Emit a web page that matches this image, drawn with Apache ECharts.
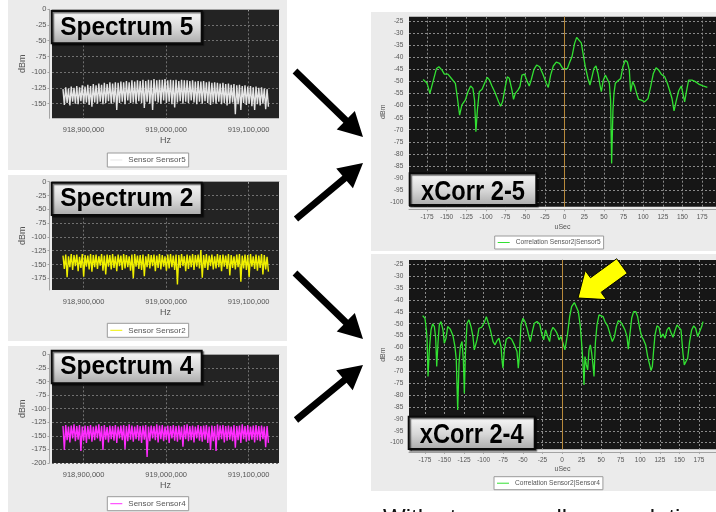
<!DOCTYPE html>
<html>
<head>
<meta charset="utf-8">
<script src="https://cdn.jsdelivr.net/npm/echarts@6/dist/echarts.min.js"></script>
<style>
  html, body { margin: 0; padding: 0; background: #ffffff; }
  #chart { width: 716px; height: 512px; }
</style>
</head>
<body>
<div id="chart"></div>
<script>
// ---- Spectrum traces: frequency span and per-bin peak / trough levels (dBm) ----
const freqStart = 918875000;
const freqEnd = 919124000;
const freqTicks = [918900000, 919000000, 919100000];

const s5High = [
  -127,-124,-126,-123,-125,-122,-124,-121,-123,-120,
  -122,-119,-121,-118,-120,-117,-119,-116,-118,-116,
  -117,-115,-116,-114,-116,-113,-115,-113,-114,-112,
  -114,-112,-113,-111,-113,-112,-112,-111,-113,-112,
  -113,-112,-114,-112,-113,-113,-114,-113,-115,-114,
  -115,-114,-116,-115,-117,-116,-117,-118,-117,-119,
  -118,-120,-119,-121,-120,-122,-121,-123,-122,-124,
  -123,-125,-124,-126,-127
];
const s5Low = [
  -152,-149,-153,-147,-150,-151,-146,-150,-148,-152,
  -155,-148,-150,-147,-151,-149,-146,-150,-148,-160,
  -149,-147,-151,-145,-149,-148,-150,-146,-149,-157,
  -147,-150,-160,-146,-148,-150,-145,-149,-147,-151,
  -156,-148,-146,-150,-147,-149,-145,-148,-151,-147,
  -150,-146,-149,-152,-148,-150,-147,-151,-149,-153,
  -150,-148,-167,-151,-160,-149,-152,-150,-154,-160,
  -151,-153,-150,-159,-155
];
const s2High = [
  -134,-132,-135,-131,-133,-132,-136,-131,-133,-134,
  -131,-133,-132,-135,-131,-134,-132,-133,-131,-135,
  -132,-134,-131,-133,-135,-132,-131,-134,-133,-132,
  -135,-131,-133,-132,-134,-131,-133,-135,-132,-131,
  -134,-132,-133,-131,-135,-132,-134,-131,-133,-132,
  -124,-133,-131,-134,-132,-135,-131,-133,-132,-134,
  -131,-133,-135,-132,-131,-134,-132,-133,-131,-135,
  -132,-134,-131,-133,-136
];
const s2Low = [
  -158,-173,-155,-160,-153,-162,-156,-172,-154,-159,
  -163,-155,-158,-152,-161,-168,-154,-159,-156,-162,
  -153,-160,-157,-155,-161,-175,-154,-158,-160,-171,
  -155,-157,-153,-162,-156,-159,-154,-161,-157,-155,
  -160,-186,-156,-153,-162,-158,-155,-160,-154,-157,
  -174,-156,-160,-153,-159,-157,-155,-162,-154,-158,
  -170,-156,-159,-155,-181,-157,-160,-173,-154,-158,
  -161,-156,-168,-159,-163
];
const s4High = [
  -132,-130,-133,-131,-129,-132,-130,-133,-131,-132,
  -130,-133,-131,-129,-132,-130,-134,-131,-132,-130,
  -133,-131,-130,-132,-129,-131,-133,-130,-132,-131,
  -130,-133,-131,-132,-129,-131,-130,-133,-131,-132,
  -130,-132,-131,-133,-130,-129,-132,-131,-133,-130,
  -132,-131,-130,-133,-131,-132,-129,-131,-130,-132,
  -131,-133,-130,-132,-131,-129,-132,-130,-133,-131,
  -130,-132,-131,-133,-132
];
const s4Low = [
  -176,-158,-162,-155,-160,-157,-178,-159,-163,-156,
  -161,-158,-155,-160,-176,-157,-162,-156,-159,-163,
  -155,-158,-174,-160,-157,-161,-156,-159,-163,-157,
  -189,-160,-155,-158,-162,-156,-160,-157,-163,-155,
  -159,-161,-157,-170,-156,-160,-158,-162,-155,-159,
  -161,-157,-163,-176,-160,-178,-158,-156,-162,-159,
  -157,-160,-172,-158,-163,-156,-161,-159,-157,-162,
  -158,-160,-156,-171,-163
];

// ---- Cross-correlation traces: lag (uSec) and level (dBm) ----
const xc25Lag = [
  -180,-175,-171.4,-163,-160,-156,-153,-148.5,-144,-139,-136.6,-133.6,-130.7,-126.4,-123,-119.6,
  -116.7,-114.6,-112.9,-111,-108.6,-105,-101.8,-98.4,-95.5,-92.5,-89,-84,-81.5,-79,-75.5,-73,
  -70.4,-67,-65,-62.8,-59.4,-56.9,-54.3,-51,-47.5,-45,-42.4,-39,-35.6,-31.8,-27.6,-23.3,-20.8,
  -17.8,-14.4,-10.6,-6.4,-2.5,0,3.4,5.9,9.3,12.7,15.3,17.8,21.2,23.8,26.3,29.7,32.2,34.8,37.3,
  39.9,42.4,45,46.7,49.2,51.8,54.3,56.9,58.5,59.8,61.5,62.8,64.5,67.9,71.3,74.2,77.2,79.8,82.3,
  84,86.5,89.1,91.6,94.2,97.6,101.8,106.1,109.5,112.9,116.3,119.7,123,127.3,130.7,134.1,136.6,
  139.2,141.7,145.1,148.5,151,152.7,155.3,157.8,162.1,166.3,170.6,176.1,181.6
];
const xc25Db = [
  -49.1,-50.7,-54.9,-44.5,-43.8,-45.2,-46.9,-46.9,-48.7,-50.7,-56.3,-63.9,-59.7,-57.7,-54.2,-51.8,
  -52.8,-57.7,-70.8,-61.8,-54.2,-53.2,-50.7,-48.2,-49.4,-51.8,-54.2,-58.4,-60.2,-58.4,-52.1,-48,
  -48.6,-53.5,-57.4,-54.9,-53.5,-52.1,-47.3,-46.9,-50,-51.8,-49.1,-44.9,-43.1,-43.8,-46.9,-50.7,-52.4,
  -47.3,-43.5,-41.9,-42.4,-44.5,-45.2,-44.6,-42.4,-39.7,-34.1,-31.6,-31.4,-33.9,-39,-43.8,-48.7,-51.4,-48,-44.5,
  -43.5,-46.6,-51.4,-54.2,-49.4,-47.3,-48,-50.7,-57.7,-84,-61.8,-54.9,-50.7,-49.6,-48.7,-43.8,-41.1,-41.8,-45.2,
  -54.2,-50,-51.8,-54.9,-57.4,-57.7,-58.4,-57,-52.1,-46.6,-44.2,-45.2,-46.9,-48,-50.7,-54.2,-57,
  -62.2,-58.4,-53.8,-51.8,-52.4,-58.4,-53.5,-49.4,-49.4,-50,-51,-51.8,-52.4
];
const xc24Lag = [
  -178,-175,-173.3,-172.4,-171.1,-169.4,-167.3,-165.2,-163,-161.3,-160,-158.4,-156.7,-154.5,-152,-150.3,
  -148.1,-146,-142.6,-139.2,-136.7,-135,-133.2,-131.5,-129.8,-127.7,-126,-124.7,-123.5,-121.3,-118.8,
  -116.2,-113.7,-112,-110.3,-108.6,-106,-102.6,-99.2,-96.6,-94.1,-91.5,-88.1,-85.6,-83,-80.5,-77.9,
  -76.2,-75.4,-73.6,-71.1,-67.7,-64.3,-60.9,-57.5,-55.8,-54.5,-52.4,-49.8,-47.3,-44.7,-42.1,-40.4,
  -37.9,-35.3,-31.9,-28.5,-26,-23.4,-20.9,-18.3,-15.8,-14,-11.5,-8.9,-6.4,-3.8,-1.3,1.3,3.8,5.5,7.2,
  9.8,12.3,15.8,18.3,20.9,23.4,25.1,26.8,28.1,29.4,31.1,32.8,34.5,36.2,37.9,39.6,40.9,42.6,44.7,47.3,
  49.8,52.4,54.9,58.3,61.7,64.3,66.8,69.4,71.9,75.4,77.9,80.5,83,84.7,86.4,89,91.5,94.1,96.6,99.2,
  101.8,104.3,106.9,109.4,112,113.7,115.4,117.1,118.8,121.3,123.9,126.4,129,131.5,134.1,136.7,139.2,
  141.8,144.3,146.9,149.4,152,154.5,156.2,158.4,160.5,163,165.6,168.2,170.7,173.3,175.8,178.4,180.1
];
const xc24Db = [
  -46.6,-47.7,-52.6,-56.1,-72.2,-61,-52.6,-50.1,-51.2,-56.1,-68,-58.2,-50.5,-49.1,-52.6,-58.2,
  -56.1,-51.2,-52.3,-55.1,-59.6,-65.2,-86.3,-66.6,-59.6,-57.5,-65.2,-79.3,-63.8,-49.8,-48.4,
  -51.2,-55.4,-61,-61.7,-56.8,-51.9,-51.5,-49.5,-47,-47.7,-52.6,-57.5,-58.9,-57.1,-56.1,-59.6,
  -66.6,-68.7,-61,-56.5,-55.7,-56.5,-58.9,-61.7,-68.7,-63.8,-50.5,-47.7,-49.1,-51.9,-55.4,-57.5,
  -53.3,-49.8,-49.1,-50.1,-54,-56.8,-52.6,-55.4,-57.5,-53.3,-51.5,-52.6,-54,-56.8,-55.4,-58.2,-61,-61,-54,
  -47,-42.8,-41.1,-41.7,-44.9,-51.2,-58.2,-66.6,-75.7,-63.8,-67.3,-69.4,-61,-58.9,-62.4,-67.3,-72.2,-58.2,-50.5,-46.3,
  -45.6,-47,-49.1,-50.9,-54.7,-57.5,-55.7,-51.2,-48.7,-49.5,-50.9,-52.6,-55.4,-60.7,-55.4,-47.7,-44.9,-44.9,-47,-51.9,
  -55.4,-56.8,-58.9,-63.8,-67.3,-69.7,-68,-61,-54.7,-50.9,-51.5,-55.7,-54.3,-56.1,-52.6,-51.5,-53.7,
  -55.7,-52.9,-50.5,-50.1,-52.6,-62.4,-67.3,-66.6,-64.5,-57.5,-52.6,-50.9,-51.9,-55.4,-55.7,-51.2,-49.1
];
const lagTicks = [-175,-150,-125,-100,-75,-50,-25,0,25,50,75,100,125,150,175];
const corrTicks = [-25,-30,-35,-40,-45,-50,-55,-60,-65,-70,-75,-80,-85,-90,-95,-100];

// ---- helpers ----
function zigzag(high, low) {
  const n = high.length;
  const step = (freqEnd - freqStart) / (n - 0.5);
  const pts = [];
  for (let i = 0; i < n; i++) {
    pts.push([freqStart + i * step, high[i]]);
    pts.push([freqStart + (i + 0.5) * step, low[i]]);
  }
  return pts;
}
function pairs(xs, ys) { return xs.map((x, i) => [x, ys[i]]); }

const FONT = '"Liberation Sans", Arial, sans-serif';
const axisGray = '#a3a3a3';

function specX(idx) {
  return {
    gridIndex: idx, type: 'value', min: 918861700, max: 919136800, offset: 4,
    axisLine: { show: true, lineStyle: { color: axisGray } },
    axisTick: { show: true, length: 2, customValues: freqTicks, lineStyle: { color: axisGray } },
    axisLabel: { customValues: freqTicks, fontSize: 7.5, color: '#555', margin: 3.5, fontFamily: FONT,
      formatter: v => Math.round(v).toLocaleString('en-US') },
    splitLine: { show: true, lineStyle: { color: '#707070', type: [2, 2], width: 1 } },
    name: 'Hz', nameLocation: 'middle', nameGap: 14,
    nameTextStyle: { fontSize: 9, color: '#555', fontFamily: FONT }
  };
}
function specY(idx, min, ticks) {
  return {
    gridIndex: idx, type: 'value', min: min, max: 0, offset: 2.5,
    axisLine: { show: true, lineStyle: { color: axisGray } },
    axisTick: { show: true, length: 2, customValues: ticks, lineStyle: { color: axisGray } },
    axisLabel: { customValues: ticks, fontSize: 7.5, color: '#555', margin: 3, fontFamily: FONT },
    splitLine: { show: true, lineStyle: { color: '#707070', type: [2, 2], width: 1 } },
    name: 'dBm', nameLocation: 'middle', nameRotate: 90, nameGap: 22,
    nameTextStyle: { fontSize: 9, color: '#555', fontFamily: FONT }
  };
}
function corrX(idx, min, max) {
  return {
    gridIndex: idx, type: 'value', min: min, max: max, offset: 2.6,
    axisLine: { show: true, lineStyle: { color: axisGray } },
    axisTick: { show: true, length: 2, customValues: lagTicks, lineStyle: { color: axisGray } },
    axisLabel: { customValues: lagTicks, fontSize: 6.5, color: '#555', margin: 4.5, fontFamily: FONT },
    splitLine: { show: true, lineStyle: { color: '#8a8a8a', type: [2, 2], width: 1 } },
    name: 'uSec', nameLocation: 'middle', nameGap: 14,
    nameTextStyle: { fontSize: 7, color: '#555', fontFamily: FONT }
  };
}
function corrY(idx, min, max) {
  return {
    gridIndex: idx, type: 'value', min: min, max: max, offset: 1.7,
    axisLine: { show: true, lineStyle: { color: axisGray } },
    axisTick: { show: true, length: 2, customValues: corrTicks, lineStyle: { color: axisGray } },
    axisLabel: { customValues: corrTicks, fontSize: 6.5, color: '#555', margin: 4, fontFamily: FONT },
    splitLine: { show: true, lineStyle: { color: '#8a8a8a', type: [2, 2], width: 1 } },
    name: 'dBm', nameLocation: 'middle', nameRotate: 90, nameGap: 19,
    nameTextStyle: { fontSize: 7, color: '#555', fontFamily: FONT }
  };
}
function legendBox(name, left, top, size) {
  return {
    data: [name], left: left, top: top, orient: 'horizontal',
    backgroundColor: '#ffffff', borderColor: '#9a9a9a', borderWidth: 1, borderRadius: 0,
    padding: [3, 3, 3, 3], itemWidth: 12, itemHeight: 1, icon: 'rect', itemGap: 0,
    textStyle: { fontSize: size, color: '#555', fontFamily: FONT, padding: [0, 0, 0, 1] },
    selectedMode: false
  };
}
function arrowPts(x1, y1, x2, y2, sw, hl, hw) {
  const dx = x2 - x1, dy = y2 - y1, L = Math.hypot(dx, dy);
  const ux = dx / L, uy = dy / L, nx = -uy, ny = ux;
  const bx = x2 - ux * hl, by = y2 - uy * hl;
  return [
    [x1 + nx * sw, y1 + ny * sw], [bx + nx * sw, by + ny * sw], [bx + nx * hw, by + ny * hw],
    [x2, y2],
    [bx - nx * hw, by - ny * hw], [bx - nx * sw, by - ny * sw], [x1 - nx * sw, y1 - ny * sw]
  ];
}
function titleBox(label, x, y, w, h, fontSize, baseline, sx) {
  return [
    { type: 'rect', z: 50, shape: { x: x, y: y, width: w, height: h },
      style: {
        fill: { type: 'linear', x: 0, y: 0, x2: 0, y2: 1, colorStops: [
          { offset: 0, color: '#fbfbfb' }, { offset: 0.55, color: '#d6d6d6' }, { offset: 1, color: '#a9a9a9' } ] },
        stroke: '#0a0a0a', lineWidth: 2,
        shadowColor: 'rgba(0,0,0,0.55)', shadowOffsetX: 1.5, shadowOffsetY: 1.5, shadowBlur: 1
      } },
    { type: 'text', z: 51, x: x + w / 2, y: y + baseline, scaleX: sx,
      style: { text: label, x: 0, y: 0, fill: '#000', font: '900 ' + fontSize + 'px ' + FONT,
        textAlign: 'center', textVerticalAlign: 'bottom' } }
  ];
}

const chart = echarts.init(document.getElementById('chart'), null, { renderer: 'canvas' });

const panelBg = '#ebebeb';
const graphics = [
  { type: 'rect', z: -10, shape: { x: 8, y: 0, width: 279, height: 170 }, style: { fill: panelBg } },
  { type: 'rect', z: -10, shape: { x: 8, y: 175, width: 279, height: 166 }, style: { fill: panelBg } },
  { type: 'rect', z: -10, shape: { x: 8, y: 346, width: 279, height: 166 }, style: { fill: panelBg } },
  { type: 'rect', z: -10, shape: { x: 371, y: 12, width: 345, height: 239 }, style: { fill: panelBg } },
  { type: 'rect', z: -10, shape: { x: 371, y: 254, width: 345, height: 237 }, style: { fill: panelBg } },
  // connecting arrows
  { type: 'polygon', z: 40, shape: { points: arrowPts(295, 71, 363, 137, 3.4, 24, 13) }, style: { fill: '#000' } },
  { type: 'polygon', z: 40, shape: { points: arrowPts(296, 219, 363, 163, 3.4, 24, 13) }, style: { fill: '#000' } },
  { type: 'polygon', z: 40, shape: { points: arrowPts(295, 273, 363, 339, 3.4, 24, 13) }, style: { fill: '#000' } },
  { type: 'polygon', z: 40, shape: { points: arrowPts(296, 420, 363, 365, 3.4, 24, 13) }, style: { fill: '#000' } },
  // highlight arrow at the correlation peak
  { type: 'polygon', z: 60, shape: { points: arrowPts(622, 266, 578, 298, 9, 22, 18) },
    style: { fill: '#ffff00', stroke: '#000', lineWidth: 1 } },
  // caption line below the panels
  { type: 'text', z: 60, x: 383, y: 507.5,
    style: { text: 'With strong smaller correlation peaks', fill: '#111', font: '24px ' + FONT,
      textAlign: 'left', textVerticalAlign: 'top' } }
].concat(
  titleBox('Spectrum 5', 51.7, 11, 150, 32.3, 26, 29.5, 0.94),
  titleBox('Spectrum 2', 51.7, 182.7, 150, 32.3, 26, 29.5, 0.94),
  titleBox('Spectrum 4', 51.7, 350.7, 150, 32.6, 26, 29.5, 0.94),
  titleBox('xCorr 2-5', 409.7, 173.3, 126.6, 31.7, 27.5, 33, 0.86),
  titleBox('xCorr 2-4', 408.7, 416.7, 126, 32.3, 27.5, 33, 0.86)
);

const specSeries = (name, idx, data, color) => ({
  name: name, type: 'line', xAxisIndex: idx, yAxisIndex: idx, data: data,
  showSymbol: false, symbol: 'none', lineStyle: { color: color, width: 1.4 }, itemStyle: { color: color },
  animation: false, clip: true, silent: true
});
const corrSeries = (name, idx, data) => ({
  name: name, type: 'line', xAxisIndex: idx, yAxisIndex: idx, data: data,
  showSymbol: false, symbol: 'none', lineStyle: { color: '#32e032', width: 1.3 }, itemStyle: { color: '#32e032' },
  animation: false, clip: true, silent: true,
  markLine: { silent: true, symbol: 'none', label: { show: false }, animation: false,
    lineStyle: { color: '#b8893a', width: 1, type: 'solid' }, data: [{ xAxis: 0 }] }
});

chart.setOption({
  animation: false,
  textStyle: { fontFamily: FONT },
  grid: [
    { left: 52, top: 9.3, width: 227, height: 109, show: true, backgroundColor: '#232323', borderWidth: 0 },
    { left: 52, top: 181.7, width: 227, height: 108.3, show: true, backgroundColor: '#232323', borderWidth: 0 },
    { left: 52, top: 354.3, width: 227, height: 108.7, show: true, backgroundColor: '#232323', borderWidth: 0 },
    { left: 409, top: 16.7, width: 307, height: 190, show: true, backgroundColor: '#161616', borderWidth: 0 },
    { left: 409, top: 260, width: 307, height: 189.3, show: true, backgroundColor: '#161616', borderWidth: 0 }
  ],
  xAxis: [specX(0), specX(1), specX(2), corrX(3, -198, 192.6), corrX(4, -195.4, 196.7)],
  yAxis: [
    specY(0, -173.3, [0, -25, -50, -75, -100, -125, -150]),
    specY(1, -196.2, [0, -25, -50, -75, -100, -125, -150, -175]),
    specY(2, -200, [0, -25, -50, -75, -100, -125, -150, -175, -200]),
    corrY(3, -102, -23),
    corrY(4, -102.8, -23.2)
  ],
  legend: [
    legendBox('Sensor Sensor5', 107.3, 153, 8),
    legendBox('Sensor Sensor2', 107.3, 323.3, 8),
    legendBox('Sensor Sensor4', 107.3, 496.7, 8),
    legendBox('Correlation Sensor2|Sensor5', 494.7, 236, 6.6),
    legendBox('Correlation Sensor2|Sensor4', 494, 476.7, 6.6)
  ],
  series: [
    specSeries('Sensor Sensor5', 0, zigzag(s5High, s5Low), '#e4e4e4'),
    specSeries('Sensor Sensor2', 1, zigzag(s2High, s2Low), '#f0f000'),
    specSeries('Sensor Sensor4', 2, zigzag(s4High, s4Low), '#ff2cff'),
    corrSeries('Correlation Sensor2|Sensor5', 3, pairs(xc25Lag, xc25Db)),
    corrSeries('Correlation Sensor2|Sensor4', 4, pairs(xc24Lag, xc24Db))
  ],
  graphic: graphics
});
</script>
</body>
</html>
